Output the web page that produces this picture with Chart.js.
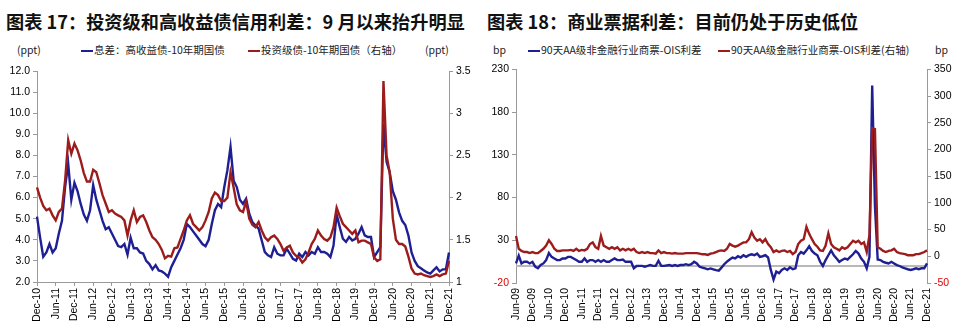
<!DOCTYPE html>
<html>
<head>
<meta charset="utf-8">
<script src="https://cdn.jsdelivr.net/npm/chart.js@4.4.1/dist/chart.umd.min.js"></script>
<style>
  body { margin: 0; width: 960px; height: 330px; background: #fff; position: relative; overflow: hidden; }
  .title { position: absolute; top: 8px; line-height: 20px; font: bold 18.2px "Noto Sans CJK SC", sans-serif; color: #111; white-space: nowrap; }
  .leg { position: absolute; top: 43px; line-height: 14px; font-size: 10.5px; font-family: "Noto Sans CJK SC", sans-serif; color: #222; white-space: nowrap; }
  .sw { display: inline-block; width: 12px; height: 2px; vertical-align: middle; margin-right: 1px; }
  canvas { position: absolute; top: 60px; }
</style>
</head>
<body>
<div class="title" style="left:6px">图表 17：投资级和高收益债信用利差：9 月以来抬升明显</div>
<div class="title" style="left:487px">图表 18：商业票据利差：目前仍处于历史低位</div>

<div class="leg" style="left:17px">(ppt)</div>
<div class="leg" style="left:81px"><span class="sw" style="background:#1f1f94"></span>息差：高收益债-10年期国债</div>
<div class="leg" style="left:248px"><span class="sw" style="background:#9c1c1c"></span>投资级债-10年期国债（右轴）</div>
<div class="leg" style="left:425px">(ppt)</div>

<div class="leg" style="left:493px">bp</div>
<div class="leg" style="left:528px"><span class="sw" style="background:#1f1f94"></span>90天AA级非金融行业商票-OIS利差</div>
<div class="leg" style="left:718px"><span class="sw" style="background:#9c1c1c"></span>90天AA级金融行业商票-OIS利差(右轴)</div>
<div class="leg" style="left:935px">bp</div>

<canvas id="c1" width="480" height="270" style="left:0"></canvas>
<canvas id="c2" width="480" height="270" style="left:480px"></canvas>

<script>
// chart 17: monthly, Dec-10 .. Dec-21
const highYieldSpread = [
  5.1, 4.1, 3.2, 3.4, 3.8, 3.4, 3.6, 4.3, 4.9, 6.5,
  7.6, 5.9, 6.7, 6.3, 5.7, 5.2, 4.9, 5.4, 6.6, 5.9,
  5.4, 4.9, 4.5, 4.6, 4.3, 4.0, 3.7, 3.65, 3.8, 3.3,
  4.1, 3.6, 3.6, 3.4, 3.35, 3.0, 2.85, 2.6, 2.8, 2.55,
  2.5, 2.4, 2.25, 2.7, 3.0, 3.3, 3.6, 4.0, 4.75, 4.6,
  4.4, 4.2, 4.0, 3.8, 3.7, 4.0, 4.75, 5.4, 5.7, 5.55,
  6.5, 7.3, 8.4, 6.8, 6.5, 5.9, 5.7, 5.95, 5.24, 4.84,
  4.68, 4.53, 3.97, 3.42, 3.26, 3.18, 3.65, 3.34, 3.26, 3.26,
  3.58, 3.34, 3.1, 3.02, 3.34, 3.18, 3.42, 3.26, 3.42, 3.34,
  3.65, 3.42, 3.42, 3.34, 3.18, 3.73, 5.2, 4.6, 4.05, 3.9,
  4.13, 3.97, 4.05, 4.29, 4.6, 4.21, 4.13, 4.13, 3.18, 3.42,
  3.65, 9.5, 7.7, 7.2, 6.3, 5.9, 5.3, 4.9, 4.7, 4.2,
  3.4, 3.0, 2.75, 2.65, 2.55, 2.45, 2.4, 2.55, 2.7, 2.5,
  2.6, 2.6, 3.4
];
const invGradeSpread = [
  2.12, 2.0, 1.9, 1.85, 1.87, 1.79, 1.73, 1.83, 1.87, 2.2,
  2.68, 2.52, 2.64, 2.56, 2.44, 2.29, 2.19, 2.19, 2.33, 2.3,
  2.17, 2.03, 1.93, 1.83, 1.85, 1.81, 1.79, 1.77, 1.73, 1.55,
  1.73, 1.85, 1.71, 1.77, 1.79, 1.71, 1.61, 1.53, 1.5, 1.45,
  1.38, 1.28, 1.31, 1.3, 1.4, 1.41, 1.51, 1.61, 1.73, 1.79,
  1.69, 1.65, 1.61, 1.65, 1.73, 1.83, 1.99, 2.06, 2.03, 1.96,
  1.96, 2.0, 2.3, 2.12, 1.92, 1.85, 1.83, 1.95, 1.75, 1.68,
  1.65, 1.71, 1.61, 1.53, 1.49, 1.53, 1.55, 1.51, 1.45, 1.37,
  1.41, 1.43, 1.35, 1.31, 1.29, 1.23, 1.27, 1.35, 1.45, 1.51,
  1.61, 1.55, 1.51, 1.49, 1.53, 1.65, 1.88, 1.78, 1.69, 1.65,
  1.61, 1.57, 1.61, 1.47, 1.49, 1.49, 1.47, 1.45, 1.29, 1.25,
  1.27, 3.38, 2.5, 2.3, 1.75, 1.5, 1.45, 1.45, 1.42, 1.3,
  1.16, 1.1, 1.09, 1.1, 1.08, 1.07, 1.06, 1.07, 1.09, 1.07,
  1.09, 1.1, 1.25
];

// chart 18: monthly, Jun-09 .. Dec-21
const nonFinCP = [
  3, 12, 2.9, 4.8, 4.8, 2.9, 4.8, -0.9, -2.8, 1,
  2.9, 6.8, 15, 10.6, 8.7, 6.8, 6.8, 8.7, 8.7, 10.6,
  10.6, 8.7, 6.8, 4.8, 4.8, 8.7, 4.8, 6.8, 6.8, 4.8,
  6.8, 4.8, 6.8, 4.8, 4.8, 6.8, 8.7, 6.8, 6.8, 7.5,
  4.8, 4.8, 4.8, -2.8, -0.1, 0, 0, -0.9, 0, 1,
  0, 0, 6, 0, 0, 0.5, 1, 0, 1, 0,
  1, 1, 2, 1, 2, 4.8, 2.9, -1, -2, -3,
  -4, -3, -4, -5, -5.5, -2, 2, 5, 7.5, 9.8,
  8.7, 11.3, 9.8, 12.5, 10.6, 12.5, 13.6, 12.5, 14.4, 10.6,
  11.3, 12.5, 9.8, -4.7, -16, -6.6, -8.5, -4.7, -2.8, -4.7,
  -1.7, -3.9, -2.8, 12.5, 16.3, 14.4, 18.2, 23, 17.5, 14.4,
  12.5, 4.8, -0.1, 6.8, 12.5, 18.2, 12.5, 8.7, 4.8, 6.8,
  8.7, 7.5, 10.6, 13.6, 17.5, 14.4, 8.7, 4.8, -2.8, 10.6,
  211, 70, 7.5, 6.8, 4.8, 3.7, 2.9, 4.8, 2.9, 1,
  -0.1, -1.7, -2.8, -3.9, -4.7, -3.9, -2.8, -3.9, -2.8, -2.8, 2.9
];
const finCP = [
  38, 14, 10, 8, 8, 6, 8, 6, 6, 10,
  14, 20, 30, 23, 14, 10, 10, 11, 11, 11,
  12, 10, 14, 10, 12, 11, 14, 23, 26, 17,
  14, 38, 20, 17, 14, 17, 14, 17, 11, 14,
  11, 14, 11, 14, 8, 6, 8, 6, 8, 6,
  6, 5, 11, 6, 8, 6, 6, 5, 6, 5,
  5, 5, 6, 6, 6, 6, 6, 5, 3.7, 3.7,
  2.5, 5, 6, 8, 10, 11, 10, 14, 23, 20,
  18, 20, 23, 26, 26, 32, 45, 35, 29, 32,
  26, 32, 23, 17, 8, 11, 8, 10, 11, 8,
  10, 4, 8, 23, 29, 32, 55, 42, 32, 23,
  18, 11, 10, 20, 43, 23, 17, 14, 11, 17,
  14, 17, 23, 29, 26, 29, 23, 26, 8, 40,
  240, 238, 17, 14, 10, 8, 10, 11, 14, 8,
  6, 5, 4, 2, 2, 2, 4, 4, 6, 8, 11
];

const BLUE = '#1f1f94';
const RED = '#9c1c1c';
const AXIS = '#9a9a9a';
const MONTH_NAMES = ['Jan', 'Feb', 'Mar', 'Apr', 'May', 'Jun', 'Jul', 'Aug', 'Sep', 'Oct', 'Nov', 'Dec'];

function monthLabels(year, month, count) {
  const out = [];
  for (let i = 0; i < count; i++) {
    const m = (month + i) % 12;
    const y = year + Math.floor((month + i) / 12);
    out.push(MONTH_NAMES[m] + '-' + String(y % 100).padStart(2, '0'));
  }
  return out;
}

Chart.defaults.font.family = '"Liberation Sans", Arial, sans-serif';
Chart.defaults.font.size = 10.5;
Chart.defaults.color = '#000';

const everySixth = function (value, index) {
  return index % 6 === 0 ? this.getLabelForValue(value) : null;
};

const negRed = (ctx) => (ctx.tick && ctx.tick.value < 0 ? '#e00000' : '#000');

// chart 17
new Chart(document.getElementById('c1'), {
  type: 'line',
  data: {
    labels: monthLabels(2010, 11, highYieldSpread.length),
    datasets: [
      { data: highYieldSpread, borderColor: BLUE, yAxisID: 'y', order: 1 },
      { data: invGradeSpread, borderColor: RED, yAxisID: 'y1', order: 0 },
    ],
  },
  options: {
    responsive: false,
    animation: false,
    layout: { padding: { top: 11, left: 0, right: 0, bottom: 0 } },
    elements: { point: { radius: 0 }, line: { borderWidth: 2.4, tension: 0 } },
    plugins: { legend: { display: false }, tooltip: { enabled: false } },
    scales: {
      x: {
        ticks: { autoSkip: false, maxRotation: 90, minRotation: 90, padding: 2, callback: everySixth },
        grid: { drawOnChartArea: false, tickLength: 4, color: AXIS },
        border: { color: AXIS },
        afterFit: (s) => { s.height = 48; },
      },
      y: {
        position: 'left',
        min: 2,
        max: 12,
        ticks: { stepSize: 1, padding: 3, callback: (v) => v.toFixed(1) },
        grid: { drawOnChartArea: false, tickLength: 4, color: AXIS },
        border: { color: AXIS },
        afterFit: (s) => { s.width = 37; },
      },
      y1: {
        position: 'right',
        min: 1,
        max: 3.5,
        ticks: { stepSize: 0.5, padding: 3, callback: (v) => String(v) },
        grid: { drawOnChartArea: false, tickLength: 4, color: AXIS },
        border: { color: AXIS },
        afterFit: (s) => { s.width = 31; },
      },
    },
  },
});

// gray line at zero on the left axis of chart 18
const zeroLine = {
  id: 'zeroLine',
  beforeDatasetsDraw(chart) {
    const { ctx, chartArea, scales } = chart;
    const y = scales.y.getPixelForValue(0);
    ctx.save();
    ctx.strokeStyle = '#b8b8b8';
    ctx.lineWidth = 2;
    ctx.beginPath();
    ctx.moveTo(chartArea.left, y);
    ctx.lineTo(chartArea.right, y);
    ctx.stroke();
    ctx.restore();
  },
};

// chart 18
new Chart(document.getElementById('c2'), {
  type: 'line',
  data: {
    labels: monthLabels(2009, 5, nonFinCP.length),
    datasets: [
      { data: nonFinCP, borderColor: BLUE, yAxisID: 'y', order: 1 },
      { data: finCP, borderColor: RED, yAxisID: 'y1', order: 0 },
    ],
  },
  options: {
    responsive: false,
    animation: false,
    layout: { padding: { top: 6, left: 0, right: 0, bottom: 0 } },
    elements: { point: { radius: 0 }, line: { borderWidth: 2.4, tension: 0 } },
    plugins: { legend: { display: false }, tooltip: { enabled: false } },
    scales: {
      x: {
        ticks: { autoSkip: false, maxRotation: 90, minRotation: 90, padding: 5, callback: everySixth },
        grid: { display: false, drawTicks: false },
        border: { display: false },
        afterFit: (s) => { s.height = 47; },
      },
      y: {
        position: 'left',
        min: -20,
        max: 230,
        ticks: { stepSize: 50, padding: 3, color: negRed },
        grid: { drawOnChartArea: false, tickLength: 4, color: AXIS },
        border: { color: AXIS },
        afterFit: (s) => { s.width = 36; },
      },
      y1: {
        position: 'right',
        min: -50,
        max: 350,
        ticks: { stepSize: 50, padding: 3, color: negRed },
        grid: { drawOnChartArea: false, tickLength: 4, color: AXIS },
        border: { color: AXIS },
        afterFit: (s) => { s.width = 33; },
      },
    },
  },
  plugins: [zeroLine],
});
</script>
</body>
</html>
